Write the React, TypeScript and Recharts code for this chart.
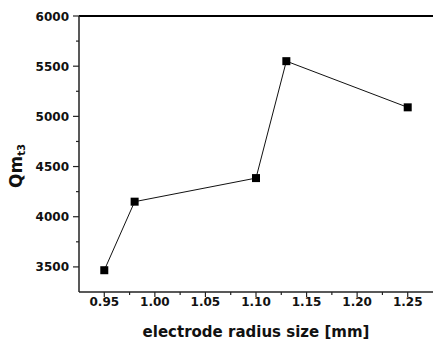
import React from "react";
import { LineChart, Line, XAxis, YAxis, ReferenceLine, Label } from "recharts";

// electrode radius (mm) and the measured Qm_t3 at each size
const radius = [0.95, 0.98, 1.1, 1.13, 1.25];
const qmT3 = [3467, 4150, 4385, 5550, 5090];

// tick positions: majors carry labels, the in-between ones are minor
const xTicks = [0.95, 0.975, 1.0, 1.025, 1.05, 1.075, 1.1, 1.125, 1.15, 1.175, 1.2, 1.225, 1.25];
const yTicks = [3500, 3750, 4000, 4250, 4500, 4750, 5000, 5250, 5500, 5750, 6000];

const data = radius.map((r, i) => ({ r, q: qmT3[i] }));

const FONT = "'DejaVu Sans', 'Liberation Sans', Arial, sans-serif";
const AXIS = "#222";

const isMajorX = (v: number) => Math.round(v * 1000) % 50 === 0;
const isMajorY = (v: number) => Math.round(v) % 500 === 0;

const XTick = (props: any) => {
  const { x, y, payload } = props;
  const v = payload.value as number;
  const major = isMajorX(v);
  const axisY = y - 10;
  return (
    <g>
      <line x1={x} x2={x} y1={axisY} y2={axisY + (major ? 5 : 3)} stroke={AXIS} strokeWidth={1.2} />
      {major && (
        <text x={x} y={axisY + 14} textAnchor="middle" fontFamily={FONT} fontWeight="bold" fontSize={12} fill="#111">
          {v.toFixed(2)}
        </text>
      )}
    </g>
  );
};

const YTick = (props: any) => {
  const { x, y, payload } = props;
  const v = payload.value as number;
  const major = isMajorY(v);
  const axisX = x + 10;
  return (
    <g>
      <line x1={axisX} x2={axisX - (major ? 6 : 3)} y1={y} y2={y} stroke={AXIS} strokeWidth={1.2} />
      {major && (
        <text x={x} y={y + 4.5} textAnchor="end" fontFamily={FONT} fontWeight="bold" fontSize={12} fill="#111">
          {v}
        </text>
      )}
    </g>
  );
};

const SquareDot = (props: any) => {
  const { cx, cy } = props;
  if (cx == null || cy == null) return null;
  return <rect x={cx - 4} y={cy - 4} width={8} height={8} fill="#000" />;
};

const YTitle = () => {
  const cx = 16;
  const cy = 166;
  return (
    <text
      x={cx}
      y={cy}
      transform={`rotate(-90, ${cx}, ${cy})`}
      textAnchor="middle"
      dominantBaseline="central"
      fontFamily={FONT}
      fontWeight="bold"
      fontSize={17}
      fill="#111"
    >
      Qm
      <tspan fontSize={10} dy={5}>t3</tspan>
    </text>
  );
};

export default function App() {
  return (
    <div style={{ position: "absolute", left: 0, top: 0, background: "#fff" }}>
      <LineChart width={433} height={349} data={data} margin={{ top: 16, right: 0, bottom: 0, left: 0 }}>
        <XAxis
          type="number"
          dataKey="r"
          domain={[0.925, 1.275]}
          ticks={xTicks}
          interval={0}
          allowDataOverflow
          height={57}
          tickSize={5}
          tickMargin={5}
          tickLine={false}
          tick={<XTick />}
          axisLine={{ stroke: AXIS, strokeWidth: 1.5 }}
        >
          <Label
            value="electrode radius size [mm]"
            position="insideBottom"
            offset={12}
            style={{ fontFamily: FONT, fontWeight: "bold", fontSize: 15, fill: "#111" }}
          />
        </XAxis>
        <YAxis
          type="number"
          domain={[3250, 6000]}
          ticks={yTicks}
          interval={0}
          allowDataOverflow
          width={79}
          tickSize={6}
          tickMargin={4}
          tickLine={false}
          tick={<YTick />}
          axisLine={{ stroke: AXIS, strokeWidth: 1.5 }}
        >
          <Label content={<YTitle />} />
        </YAxis>
        <ReferenceLine y={6000} stroke="#000" strokeWidth={2} />
        <Line
          type="linear"
          dataKey="q"
          stroke="#111"
          strokeWidth={1}
          dot={<SquareDot />}
          activeDot={false}
          isAnimationActive={false}
        />
      </LineChart>
    </div>
  );
}
